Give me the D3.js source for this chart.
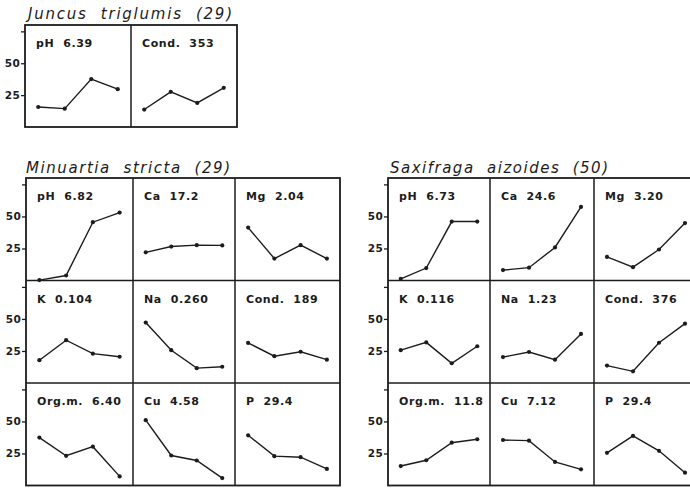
<!DOCTYPE html>
<html>
<head>
<meta charset="utf-8">
<script src="https://cdn.jsdelivr.net/npm/d3@7"></script>
<style>
  html, body { margin: 0; padding: 0; background: #fff; }
  svg { display: block; }
  text { white-space: pre; }
</style>
</head>
<body>
<svg id="chart" width="690" height="490"></svg>
<script>
// ---------- data ----------
const steps = ["1", "2", "3", "4"];
const yTickValues = [25, 50, 75];
const yTickText = ["25", "50", ""];

const juncusTitle = "Juncus  triglumis  (29)";
const juncusVariables = ["pH", "Cond."];
const juncusMeans = ["6.39", "353"];
const juncusValues = [
  [15.7, 14.4, 37.6, 29.7],
  [13.7, 27.6, 18.9, 30.7]
];

const minuartiaTitle = "Minuartia  stricta  (29)";
const minuartiaVariables = ["pH", "Ca", "Mg", "K", "Na", "Cond.", "Org.m.", "Cu", "P"];
const minuartiaMeans = ["6.82", "17.2", "2.04", "0.104", "0.260", "189", "6.40", "4.58", "29.4"];
const minuartiaValues = [
  [0.3, 3.9, 45.5, 53.0],
  [22.0, 26.5, 27.6, 27.4],
  [41.3, 17.1, 27.6, 17.1],
  [17.8, 33.4, 22.9, 20.5],
  [47.2, 25.6, 11.6, 12.7],
  [31.3, 20.9, 24.4, 18.2],
  [37.4, 23.2, 30.3, 7.1],
  [51.0, 23.4, 19.5, 5.8],
  [39.2, 22.9, 22.1, 12.9]
];

const saxifragaTitle = "Saxifraga  aizoides  (50)";
const saxifragaVariables = ["pH", "Ca", "Mg", "K", "Na", "Cond.", "Org.m.", "Cu", "P"];
const saxifragaMeans = ["6.73", "24.6", "3.20", "0.116", "1.23", "376", "11.8", "7.12", "29.4"];
const saxifragaValues = [
  [1.3, 9.7, 46.0, 46.0],
  [8.1, 10.0, 25.8, 57.4],
  [18.4, 10.4, 24.2, 44.8],
  [25.6, 31.7, 15.4, 28.7],
  [20.2, 24.2, 18.2, 38.3],
  [13.6, 9.1, 31.4, 46.3],
  [15.2, 19.7, 33.4, 36.1],
  [35.5, 35.0, 18.4, 12.6],
  [25.5, 38.7, 27.1, 10.0]
];

// ---------- drawing ----------
const INK = "#1c1c1c";
const FONT = "'DejaVu Sans', 'Liberation Sans', sans-serif";
const svg = d3.select("#chart");

function drawGroup(cfg) {
  const g = svg.append("g");
  const nCols = cfg.edges.length - 1;
  const nRows = Math.ceil(cfg.variables.length / nCols);
  const left = cfg.edges[0], right = cfg.edges[nCols];
  const bottom = cfg.top + nRows * cfg.rowH;

  // title
  g.append("text")
    .attr("x", cfg.titleX).attr("y", cfg.titleY)
    .attr("textLength", cfg.titleLen).attr("lengthAdjust", "spacing")
    .attr("font-family", FONT).attr("font-style", "italic")
    .attr("font-size", 15).attr("fill", INK)
    .text(cfg.title);

  // y axis per row
  for (let r = 0; r < nRows; r++) {
    const y = d3.scaleLinear().domain([0, 80])
      .range([cfg.top + (r + 1) * cfg.rowH, cfg.top + r * cfg.rowH]);
    const ax = g.append("g")
      .attr("transform", `translate(${left},0)`)
      .call(d3.axisLeft(y).tickValues(yTickValues).tickSize(4).tickPadding(1)
        .tickFormat((d, i) => yTickText[i]));
    ax.select(".domain").remove();
    ax.selectAll("line").attr("stroke", INK).attr("stroke-width", 1.3);
    ax.selectAll("text").attr("font-family", FONT).attr("font-weight", "bold")
      .attr("font-size", 10.5).attr("letter-spacing", 0.3).attr("fill", INK);
  }

  // panels
  cfg.variables.forEach((v, i) => {
    const c = i % nCols, r = Math.floor(i / nCols);
    const x0 = cfg.edges[c], x1 = cfg.edges[c + 1];
    const rowTop = cfg.top + r * cfg.rowH;
    const x = d3.scalePoint().domain(steps).range([x0, x1]).padding(0.5);
    const y = d3.scaleLinear().domain([0, 80]).range([rowTop + cfg.rowH, rowTop]);
    const vals = cfg.values[i];
    const line = d3.line().x((d, j) => x(steps[j])).y(d => y(d));

    g.append("path").datum(vals)
      .attr("d", line).attr("fill", "none")
      .attr("stroke", INK).attr("stroke-width", 1.4);
    g.selectAll(null).data(vals).enter().append("circle")
      .attr("cx", (d, j) => x(steps[j])).attr("cy", d => y(d))
      .attr("r", 2.1).attr("fill", INK);

    g.append("text")
      .attr("x", x0 + 11).attr("y", rowTop + 22)
      .attr("font-family", FONT).attr("font-weight", "bold")
      .attr("font-size", 11).attr("letter-spacing", 0.6).attr("fill", INK)
      .text(v + "  " + cfg.means[i]);
  });

  // box and dividers
  g.append("rect")
    .attr("x", left).attr("y", cfg.top)
    .attr("width", right - left).attr("height", bottom - cfg.top)
    .attr("fill", "none").attr("stroke", INK).attr("stroke-width", 1.8);
  for (let c = 1; c < nCols; c++) {
    g.append("line")
      .attr("x1", cfg.edges[c]).attr("x2", cfg.edges[c])
      .attr("y1", cfg.top).attr("y2", bottom)
      .attr("stroke", INK).attr("stroke-width", 1.5);
  }
  for (let r = 1; r < nRows; r++) {
    const yy = cfg.top + r * cfg.rowH;
    g.append("line")
      .attr("x1", left).attr("x2", right)
      .attr("y1", yy).attr("y2", yy)
      .attr("stroke", INK).attr("stroke-width", 1.5);
  }
}

drawGroup({
  title: juncusTitle, variables: juncusVariables, means: juncusMeans, values: juncusValues,
  edges: [25, 131, 237], top: 25, rowH: 102,
  titleX: 28, titleY: 19, titleLen: 204
});
drawGroup({
  title: minuartiaTitle, variables: minuartiaVariables, means: minuartiaMeans, values: minuartiaValues,
  edges: [26, 133, 235, 340], top: 178, rowH: 102.5,
  titleX: 26, titleY: 172.5, titleLen: 204
});
drawGroup({
  title: saxifragaTitle, variables: saxifragaVariables, means: saxifragaMeans, values: saxifragaValues,
  edges: [388, 490, 594, 698], top: 178, rowH: 102.5,
  titleX: 390, titleY: 172.5, titleLen: 218
});
</script>
</body>
</html>
